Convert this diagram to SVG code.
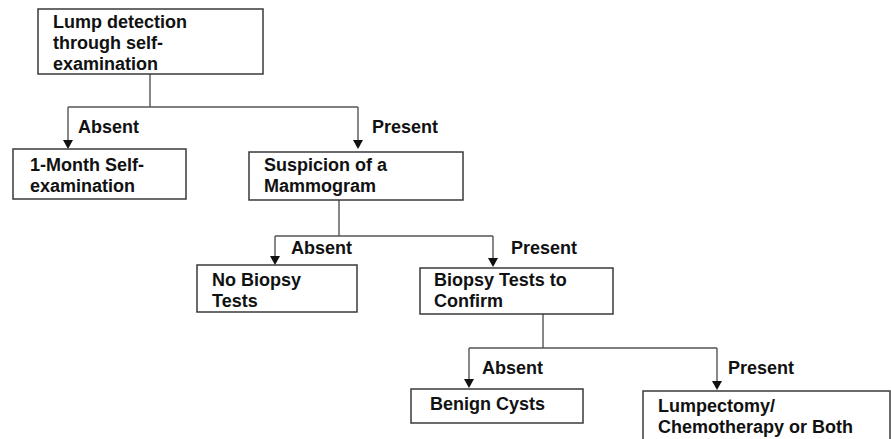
<svg xmlns="http://www.w3.org/2000/svg" width="891" height="439" viewBox="0 0 891 439">
<defs>
<style>
.box{fill:#fff;stroke:#3a3a3a;stroke-width:1.5}
.t{font-family:"Liberation Sans",Arial,sans-serif;font-weight:bold;font-size:18px;fill:#111}
.c{fill:none;stroke:#555;stroke-width:1.4}
.a{fill:none;stroke:#555;stroke-width:1.4;marker-end:url(#ah)}
</style>
<marker id="ah" viewBox="0 0 10 8" refX="5" refY="8" markerWidth="10" markerHeight="8" markerUnits="userSpaceOnUse" orient="auto">
<path d="M0,0 L10,0 L5,8 Z" fill="#111" transform="rotate(-90 5 4) translate(1 -1)"/>
</marker>
</defs>
<rect width="891" height="439" fill="#fff"/>
<g id="connectors">
<path class="c" d="M150,74 V107 M68,107 H358"/>
<path class="c" d="M68,107 V142"/>
<path d="M63,140 L73,140 L68,149 Z" fill="#111"/>
<path class="c" d="M358,107 V142"/>
<path d="M353,140 L363,140 L358,149 Z" fill="#111"/>
<path class="c" d="M339,200 V236 M275,236 H493"/>
<path class="c" d="M275,236 V258"/>
<path d="M270,256 L280,256 L275,265 Z" fill="#111"/>
<path class="c" d="M493,236 V260"/>
<path d="M488,258 L498,258 L493,267 Z" fill="#111"/>
<path class="c" d="M543,314 V348 M469,348 H717"/>
<path class="c" d="M469,348 V381"/>
<path d="M464,379 L474,379 L469,388 Z" fill="#111"/>
<path class="c" d="M717,348 V383"/>
<path d="M712,381 L722,381 L717,390 Z" fill="#111"/>
<text class="t" x="78" y="133">Absent</text>
<text class="t" x="372" y="133">Present</text>
<text class="t" x="291" y="254">Absent</text>
<text class="t" x="511" y="254">Present</text>
<text class="t" x="482" y="374">Absent</text>
<text class="t" x="728" y="374">Present</text>
</g>
<g id="lump">
<rect class="box" x="38" y="9" width="225" height="65"/>
<text class="t" x="53" y="28">Lump detection</text>
<text class="t" x="53" y="49">through self-</text>
<text class="t" x="53" y="70">examination</text>
</g>
<g id="monthly">
<rect class="box" x="13" y="149" width="173" height="50"/>
<text class="t" x="30" y="171">1-Month Self-</text>
<text class="t" x="30" y="192">examination</text>
</g>
<g id="mammogram">
<rect class="box" x="249" y="152" width="214" height="48"/>
<text class="t" x="264" y="171">Suspicion of a</text>
<text class="t" x="264" y="192">Mammogram</text>
</g>
<g id="nobiopsy">
<rect class="box" x="197" y="265" width="160" height="47"/>
<text class="t" x="212" y="286">No Biopsy</text>
<text class="t" x="212" y="307">Tests</text>
</g>
<g id="biopsy">
<rect class="box" x="420" y="268" width="193" height="46"/>
<text class="t" x="434" y="286">Biopsy Tests to</text>
<text class="t" x="434" y="307">Confirm</text>
</g>
<g id="benign">
<rect class="box" x="411" y="389" width="172" height="34"/>
<text class="t" x="430" y="410">Benign Cysts</text>
</g>
<g id="lumpectomy">
<rect class="box" x="643" y="391" width="247" height="60"/>
<text class="t" x="658" y="412">Lumpectomy/</text>
<text class="t" x="658" y="433">Chemotherapy or Both</text>
</g>
</svg>
